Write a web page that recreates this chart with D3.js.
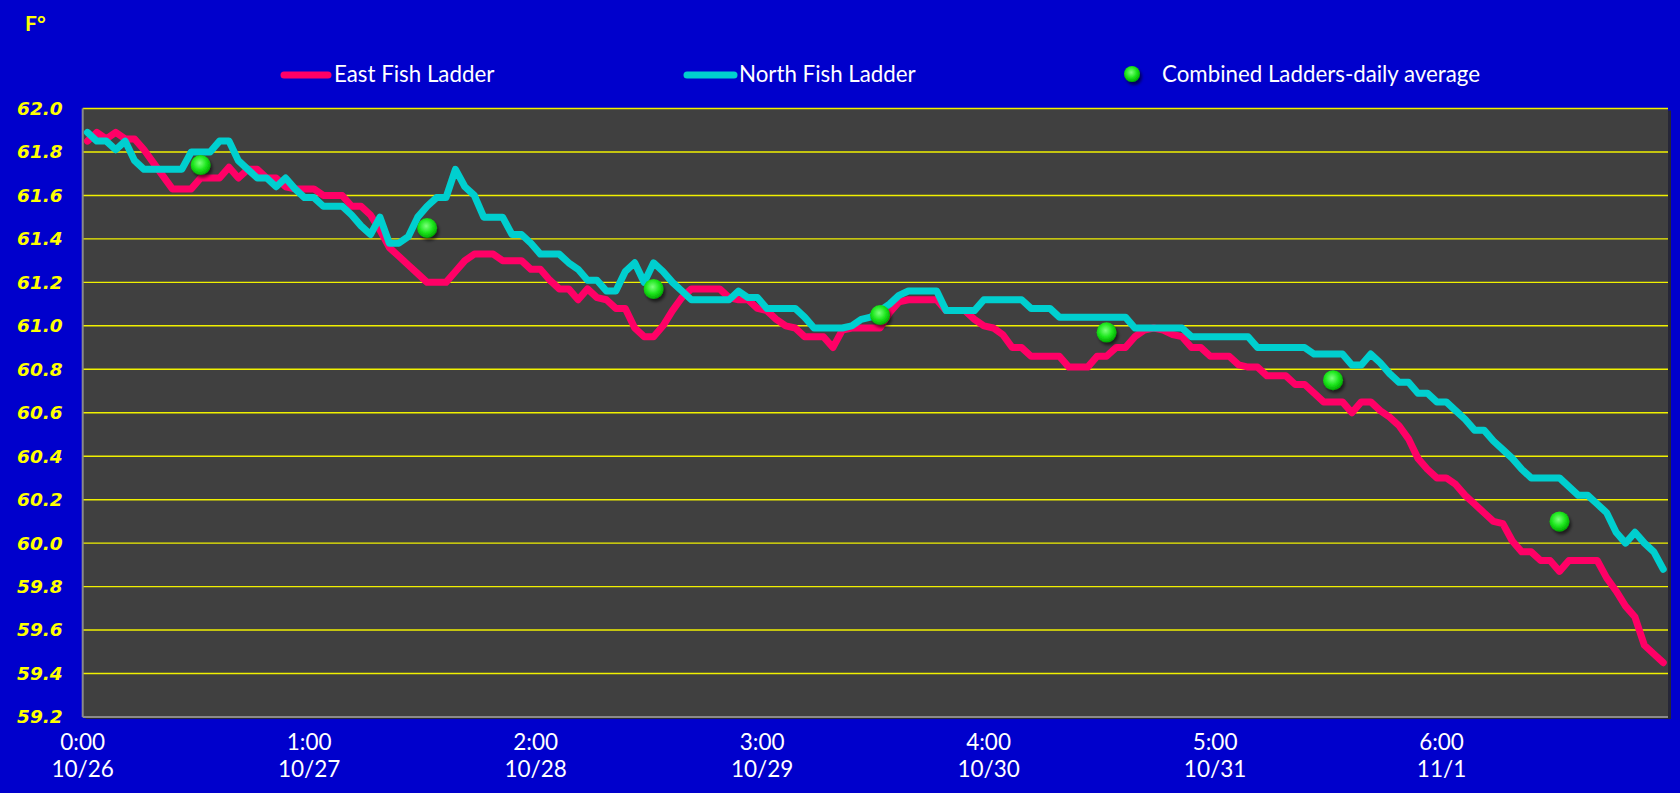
<!DOCTYPE html>
<html><head>
<meta charset="utf-8">
<title>Fish Ladder Temperatures</title>
<script src="https://d3js.org/d3.v7.min.js"></script>
<style>
  body { margin: 0; background: #0000cc; overflow: hidden; }
  svg { display: block; }
</style>
</head>
<body>
<div id="container"></div>

<script>
// DATA (hourly readings, 10/26 0:00 through 11/1 23:00)
const eastTemps = [
  61.85,61.89,61.86,61.89,61.86,61.86,61.81,61.75,61.69,61.63,61.63,61.63,61.68,61.68,61.68,61.73,61.68,61.72,61.72,61.68,61.68,61.64,61.63,61.63,
  61.63,61.60,61.60,61.60,61.55,61.55,61.51,61.44,61.36,61.32,61.28,61.24,61.20,61.20,61.20,61.25,61.30,61.33,61.33,61.33,61.30,61.30,61.30,61.26,
  61.26,61.21,61.17,61.17,61.12,61.17,61.13,61.12,61.08,61.08,60.99,60.95,60.95,61.00,61.07,61.13,61.17,61.17,61.17,61.17,61.13,61.12,61.12,61.08,
  61.07,61.03,61.00,60.99,60.95,60.95,60.95,60.90,60.98,60.99,60.99,60.99,60.99,61.06,61.11,61.12,61.12,61.12,61.12,61.07,61.07,61.07,61.03,61.00,
  60.99,60.96,60.90,60.90,60.86,60.86,60.86,60.86,60.81,60.81,60.81,60.86,60.86,60.90,60.90,60.95,60.98,60.99,60.98,60.96,60.95,60.90,60.90,60.86,
  60.86,60.86,60.82,60.81,60.81,60.77,60.77,60.77,60.73,60.73,60.69,60.65,60.65,60.65,60.60,60.65,60.65,60.61,60.58,60.54,60.48,60.39,60.34,60.30,
  60.30,60.27,60.22,60.18,60.14,60.10,60.09,60.01,59.96,59.96,59.92,59.92,59.87,59.92,59.92,59.92,59.92,59.84,59.78,59.71,59.66,59.53,59.49,59.45
];
const northTemps = [
  61.89,61.85,61.85,61.81,61.85,61.76,61.72,61.72,61.72,61.72,61.72,61.80,61.80,61.80,61.85,61.85,61.76,61.72,61.68,61.68,61.64,61.68,61.63,61.59,
  61.59,61.55,61.55,61.55,61.51,61.46,61.42,61.50,61.38,61.38,61.41,61.50,61.55,61.59,61.59,61.72,61.64,61.60,61.50,61.50,61.50,61.42,61.42,61.38,
  61.33,61.33,61.33,61.29,61.26,61.21,61.21,61.16,61.16,61.25,61.29,61.20,61.29,61.25,61.20,61.16,61.12,61.12,61.12,61.12,61.12,61.16,61.13,61.13,
  61.08,61.08,61.08,61.08,61.04,60.99,60.99,60.99,60.99,61.00,61.03,61.04,61.07,61.10,61.14,61.16,61.16,61.16,61.16,61.07,61.07,61.07,61.07,61.12,
  61.12,61.12,61.12,61.12,61.08,61.08,61.08,61.04,61.04,61.04,61.04,61.04,61.04,61.04,61.04,60.99,60.99,60.99,60.99,60.99,60.99,60.95,60.95,60.95,
  60.95,60.95,60.95,60.95,60.90,60.90,60.90,60.90,60.90,60.90,60.87,60.87,60.87,60.87,60.82,60.82,60.87,60.83,60.78,60.74,60.74,60.69,60.69,60.65,
  60.65,60.61,60.57,60.52,60.52,60.47,60.43,60.39,60.34,60.30,60.30,60.30,60.30,60.26,60.22,60.22,60.18,60.14,60.05,60.00,60.05,60.00,59.96,59.88
];
// combined daily average, plotted at midday of each day
const avgTemps = [61.74, 61.45, 61.17, 61.05, 60.97, 60.75, 60.10];
const avgHours = [12, 36, 60, 84, 108, 132, 156];

const timeLabels = ["0:00", "1:00", "2:00", "3:00", "4:00", "5:00", "6:00"];
const dayLabels = ["10/26", "10/27", "10/28", "10/29", "10/30", "10/31", "11/1"];
const tickHours = [0, 24, 48, 72, 96, 120, 144];
const yTickValues = [59.2, 59.4, 59.6, 59.8, 60.0, 60.2, 60.4, 60.6, 60.8, 61.0, 61.2, 61.4, 61.6, 61.8, 62.0];
const seriesNames = ["East Fish Ladder", "North Fish Ladder", "Combined Ladders-daily average"];

// LAYOUT
const width = 1680, height = 793;
const margin = { top: 108.5, right: 12, bottom: 76, left: 82.7 };
const chartWidth = width - margin.left - margin.right;
const chartHeight = height - margin.top - margin.bottom;

const eastColor = "#ff0066";
const northColor = "#00cfcf";

const svg = d3.select("#container").append("svg")
              .attr("width", width)
              .attr("height", height);

const defs = svg.append("defs");
const grad = defs.append("radialGradient").attr("id", "dotGrad")
                 .attr("cx", "45%").attr("cy", "40%").attr("r", "60%");
grad.append("stop").attr("offset", "0%").attr("stop-color", "#7dff7d");
grad.append("stop").attr("offset", "55%").attr("stop-color", "#1ee81e");
grad.append("stop").attr("offset", "100%").attr("stop-color", "#00a800");
const shadow = defs.append("filter").attr("id", "dotShadow")
                   .attr("x", "-50%").attr("y", "-50%").attr("width", "200%").attr("height", "200%");
shadow.append("feDropShadow").attr("dx", 2).attr("dy", 3).attr("stdDeviation", 1.8)
      .attr("flood-color", "#000").attr("flood-opacity", 0.55);

svg.append("rect").attr("width", width).attr("height", height).attr("fill", "#0000cc");

// scales
const xScale = d3.scaleLinear().domain([0, 168]).range([margin.left, width - margin.right]);
const yScale = d3.scaleLinear().domain([59.2, 62.0]).range([height - margin.bottom, margin.top]);

// plot area with a small shadow
svg.append("rect")
   .attr("x", margin.left + 3).attr("y", margin.top + 2)
   .attr("width", chartWidth).attr("height", chartHeight)
   .attr("fill", "#262636");
svg.append("rect")
   .attr("x", margin.left).attr("y", margin.top)
   .attr("width", chartWidth).attr("height", chartHeight)
   .attr("fill", "#404040");

// yellow gridlines
svg.append("g").selectAll("line.grid")
   .data(yTickValues.slice(1))
   .join("line").attr("class", "grid")
   .attr("x1", margin.left).attr("x2", width - margin.right)
   .attr("y1", d => yScale(d)).attr("y2", d => yScale(d))
   .attr("stroke", "#f0f000").attr("stroke-width", 1.4);

// axis lines
svg.append("line")
   .attr("x1", margin.left).attr("x2", margin.left)
   .attr("y1", margin.top).attr("y2", height - margin.bottom)
   .attr("stroke", "#8a8a8a").attr("stroke-width", 2);
svg.append("line")
   .attr("x1", margin.left).attr("x2", width - margin.right)
   .attr("y1", height - margin.bottom).attr("y2", height - margin.bottom)
   .attr("stroke", "#8a8a8a").attr("stroke-width", 2);

// y axis labels
const yAxis = d3.axisLeft(yScale).tickValues(yTickValues).tickFormat(d3.format(".1f"))
                .tickSize(0).tickPadding(20);
const yAxisArea = svg.append("g").attr("transform", "translate(" + margin.left + ",0)").call(yAxis);
yAxisArea.select(".domain").remove();
yAxisArea.selectAll("text")
         .attr("fill", "#ffff00")
         .style("font-family", "'DejaVu Sans', Verdana, sans-serif")
         .style("font-size", "18.5px")
         .style("font-weight", "bold")
         .style("font-style", "italic");

// x axis labels: time on one line, date below
const xAxisArea = svg.append("g");
tickHours.forEach((h, i) => {
  const t = xAxisArea.append("text")
                     .attr("x", xScale(h))
                     .attr("text-anchor", "middle")
                     .attr("fill", "#ffffff")
                     .style("font-family", "Lato, 'Open Sans', sans-serif")
                     .style("font-size", "22.5px");
  t.append("tspan").attr("x", xScale(h)).attr("y", 750).text(timeLabels[i]);
  t.append("tspan").attr("x", xScale(h)).attr("y", 777).text(dayLabels[i]);
});

// unit label
svg.append("text").attr("x", 25).attr("y", 31)
   .attr("fill", "#ffff00")
   .style("font-family", "Lato, sans-serif")
   .style("font-size", "21px")
   .style("font-weight", "bold")
   .text("F°");

// lines
const line = d3.line()
               .x((d, i) => xScale(i + 0.5))
               .y(d => yScale(d));

svg.append("path").datum(eastTemps)
   .attr("d", line)
   .attr("fill", "none").attr("stroke", eastColor)
   .attr("stroke-width", 7).attr("stroke-linejoin", "round").attr("stroke-linecap", "round");

svg.append("path").datum(northTemps)
   .attr("d", line)
   .attr("fill", "none").attr("stroke", northColor)
   .attr("stroke-width", 7).attr("stroke-linejoin", "round").attr("stroke-linecap", "round");

// daily averages
svg.append("g").selectAll("circle.avg")
   .data(avgTemps)
   .join("circle").attr("class", "avg")
   .attr("cx", (d, i) => xScale(avgHours[i] + 0.5))
   .attr("cy", d => yScale(d))
   .attr("r", 10)
   .attr("fill", "url(#dotGrad)")
   .attr("filter", "url(#dotShadow)");

// legend
const legend = svg.append("g")
                  .style("font-family", "Lato, 'Open Sans', sans-serif")
                  .style("font-size", "22.3px")
                  .attr("fill", "#ffffff");
const legendY = 75;
legend.append("line").attr("x1", 284).attr("x2", 328).attr("y1", legendY).attr("y2", legendY)
      .attr("stroke", eastColor).attr("stroke-width", 7).attr("stroke-linecap", "round");
legend.append("text").attr("x", 334).attr("y", legendY + 7).text(seriesNames[0]);
legend.append("line").attr("x1", 687).attr("x2", 734).attr("y1", legendY).attr("y2", legendY)
      .attr("stroke", northColor).attr("stroke-width", 7).attr("stroke-linecap", "round");
legend.append("text").attr("x", 739).attr("y", legendY + 7).text(seriesNames[1]);
legend.append("circle").attr("cx", 1132).attr("cy", legendY - 1).attr("r", 8)
      .attr("fill", "url(#dotGrad)").attr("filter", "url(#dotShadow)");
legend.append("text").attr("x", 1162).attr("y", legendY + 7).text(seriesNames[2]);
</script>
</body>
</html>
